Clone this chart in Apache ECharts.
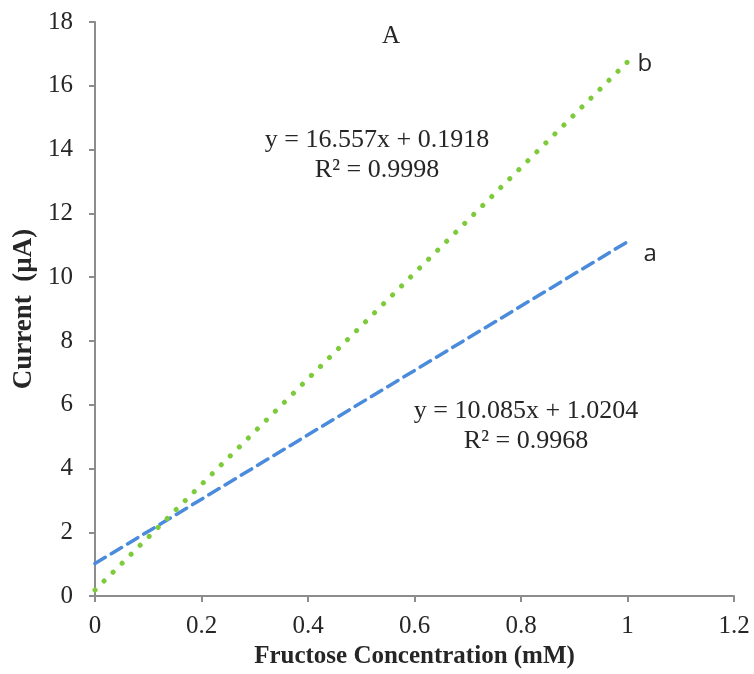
<!DOCTYPE html>
<html><head><meta charset="utf-8">
<script src="https://cdn.jsdelivr.net/npm/echarts@6/dist/echarts.min.js"></script>
<style>html,body{margin:0;padding:0;background:#fff}#c{width:754px;height:674px}</style>
</head><body><div id="c"></div>
<script>
const xTicks = [0, 0.2, 0.4, 0.6, 0.8, 1, 1.2];
const yTicks = [0, 2, 4, 6, 8, 10, 12, 14, 16, 18];
const seriesAX = [0, 1];
const seriesAY = [1.02, 11.11];
const seriesBX = [0, 1];
const seriesBY = [0.19, 16.75];
const eqB = ['y = 16.557x + 0.1918', 'R² = 0.9998'];
const eqA = ['y = 10.085x + 1.0204', 'R² = 0.9968'];

const chart = echarts.init(document.getElementById('c'));
const serif = '"Liberation Serif","Times New Roman",serif';
const sans = '"Open Sans","Liberation Sans",sans-serif';
const txt = '#262626';
const axisCol = '#8c8c8c';
chart.setOption({
  animation: false,
  grid: {left: 95, right: 20, top: 22, bottom: 72},
  title: {text: 'A', left: 377, top: 19, textStyle: {fontFamily: serif, fontSize: 25, fontWeight: 'normal', color: txt}},
  xAxis: {
    type: 'value', min: xTicks[0], max: xTicks[xTicks.length-1], interval: 0.2,
    name: 'Fructose Concentration (mM)', nameLocation: 'middle', nameGap: 47,
    nameTextStyle: {fontFamily: serif, fontSize: 25, fontWeight: 'bold', color: txt},
    axisLine: {lineStyle: {color: axisCol, width: 2}},
    axisTick: {show: true, length: 6, lineStyle: {color: axisCol, width: 2}},
    axisLabel: {fontFamily: serif, fontSize: 25, color: txt, margin: 18, formatter: v => String(+v.toFixed(1))},
    splitLine: {show: false}
  },
  yAxis: {
    type: 'value', min: yTicks[0], max: yTicks[yTicks.length-1], interval: 2,
    name: 'Current  (µA)', nameLocation: 'middle', nameGap: 56, nameRotate: 90,
    nameTextStyle: {fontFamily: serif, fontSize: 27, fontWeight: 'bold', color: txt},
    axisLine: {show: true, lineStyle: {color: axisCol, width: 2}},
    axisTick: {show: true, length: 6, lineStyle: {color: axisCol, width: 2}},
    axisLabel: {fontFamily: serif, fontSize: 25, color: txt, margin: 22},
    splitLine: {show: false}
  },
  series: [
    {
      name: 'a', type: 'line', showSymbol: false,
      data: seriesAX.map((x, i) => [x, seriesAY[i]]),
      lineStyle: {color: '#4A8BDC', width: 3.5, type: [12, 7], cap: 'round'},
      endLabel: {show: true, formatter: 'a', fontFamily: sans, fontSize: 24, color: txt, offset: [8, 12]}
    },
    {
      name: 'b', type: 'line', showSymbol: false,
      data: seriesBX.map((x, i) => [x, seriesBY[i]]),
      lineStyle: {color: '#7DCB3A', width: 5, type: [0.1, 12.6], cap: 'round'},
      endLabel: {show: true, formatter: 'b', fontFamily: sans, fontSize: 24, color: txt, offset: [2, 2]}
    }
  ],
  graphic: [
    {type: 'text', x: 377, y: 140, style: {text: eqB[0], fontFamily: serif, fontSize: 26, fill: txt, align: 'center', verticalAlign: 'middle'}},
    {type: 'text', x: 377, y: 170, style: {text: eqB[1], fontFamily: serif, fontSize: 26, fill: txt, align: 'center', verticalAlign: 'middle'}},
    {type: 'text', x: 526, y: 411, style: {text: eqA[0], fontFamily: serif, fontSize: 26, fill: txt, align: 'center', verticalAlign: 'middle'}},
    {type: 'text', x: 526, y: 441, style: {text: eqA[1], fontFamily: serif, fontSize: 26, fill: txt, align: 'center', verticalAlign: 'middle'}}
  ]
});
</script></body></html>
